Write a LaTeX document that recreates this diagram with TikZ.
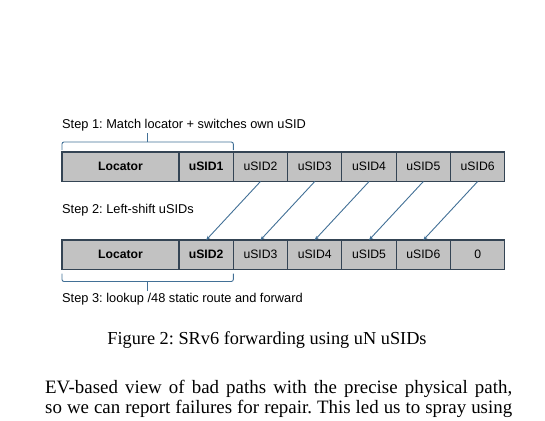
\documentclass[tikz,border=0pt]{standalone}
\usepackage{fontspec}
\setmainfont{Liberation Serif}
\setsansfont{Liberation Sans}
\usetikzlibrary{arrows.meta}
\usetikzlibrary{calc}
\usetikzlibrary{positioning}
\definecolor{cellgray}{RGB}{194,194,194}
\definecolor{celledge}{RGB}{52,68,84}
\definecolor{shiftblue}{RGB}{66,112,150}
\newcommand{\shiftarrow}{\draw[shiftblue, line width=0.9pt, -{Stealth[length=1.5mm, width=1.2mm]}]}
\frenchspacing

\begin{document}
\begin{tikzpicture}[x=1pt, y=-1pt,
    cell/.style={draw=celledge, fill=cellgray, line width=1.1pt, outer sep=0pt,
        minimum width=54.3, minimum height=29.5, inner sep=0pt,
        font=\sffamily\fontsize{12.2}{14}\selectfont},
    steptext/.style={anchor=base west, inner sep=0pt,
        font=\sffamily\fontsize{12.8}{15}\selectfont},
    bracket/.style={shiftblue, line width=0.9pt, rounded corners=2pt},
    serif/.style={anchor=base west, inner sep=0pt,
        font=\rmfamily\fontsize{18.3}{20}\selectfont}]
    \useasboundingbox (0,0) rectangle (545,420);

    % Top row: before the shift
    \node[cell, minimum width=117, anchor=north west] (t0) at (62,152) {\bfseries Locator};
    \node[cell, right=0pt of t0] (t1) {\bfseries uSID1};
    \foreach \i [evaluate=\i as \j using int(\i-1)] in {2,...,6} {
        \node[cell, right=0pt of t\j] (t\i) {uSID\i};
    }

    % Bottom row: after the shift
    \node[cell, minimum width=117, anchor=north west] (b0) at (62,240) {\bfseries Locator};
    \node[cell, right=0pt of b0] (b1) {\bfseries uSID2};
    \foreach \i [evaluate=\i as \j using int(\i-1), evaluate=\i as \k using int(\i+1)] in {2,...,5} {
        \node[cell, right=0pt of b\j] (b\i) {uSID\k};
    }
    \node[cell, right=0pt of b5] (b6) {0};

    % Draw shifts
    \foreach \i [evaluate=\i as \j using int(\i-1)] in {2,...,6} {
        \shiftarrow (t\i.south) -- (b\j.north);
    }

    % Draw brackets
    \draw[bracket] ($(t0.north west)+(0,-2)$) -- ++(0,-8) -| ($(t1.north east)+(0,-2)$);
    \draw[bracket] ($(t0.north west)!0.5!(t1.north east)+(0,-10)$) -- ++(0,-9);
    \draw[bracket] ($(b0.south west)+(0,4)$) -- ++(0,8) -| ($(b1.south east)+(0,4)$);
    \draw[bracket] ($(b0.south west)!0.5!(b1.south east)+(0,12)$) -- ++(0,9);

    % Step labels
    \node[steptext] (s1) at (62,128.5) {Step 1: Match locator + switches own uSID};
    \node[steptext] (s2) at (62,213.3) {Step 2: Left-shift uSIDs};
    \node[steptext] (s3) at (62,302) {Step 3: lookup /48 static route and forward};

    % Caption and text
    \node[serif, anchor=base] (cap) at (267,344) {Figure 2: SRv6 forwarding using uN uSIDs};
    \node[serif, font=\rmfamily\fontsize{18.9}{20}\selectfont] (line1) at (45,393.3) {\makebox[467pt][s]{EV-based view of bad paths with the precise physical path,}};
    \node[serif, font=\rmfamily\fontsize{18.9}{20}\selectfont] (line2) at (45,413.3) {\makebox[467pt][s]{so we can report failures for repair. This led us to spray using}};
\end{tikzpicture}
\end{document}
